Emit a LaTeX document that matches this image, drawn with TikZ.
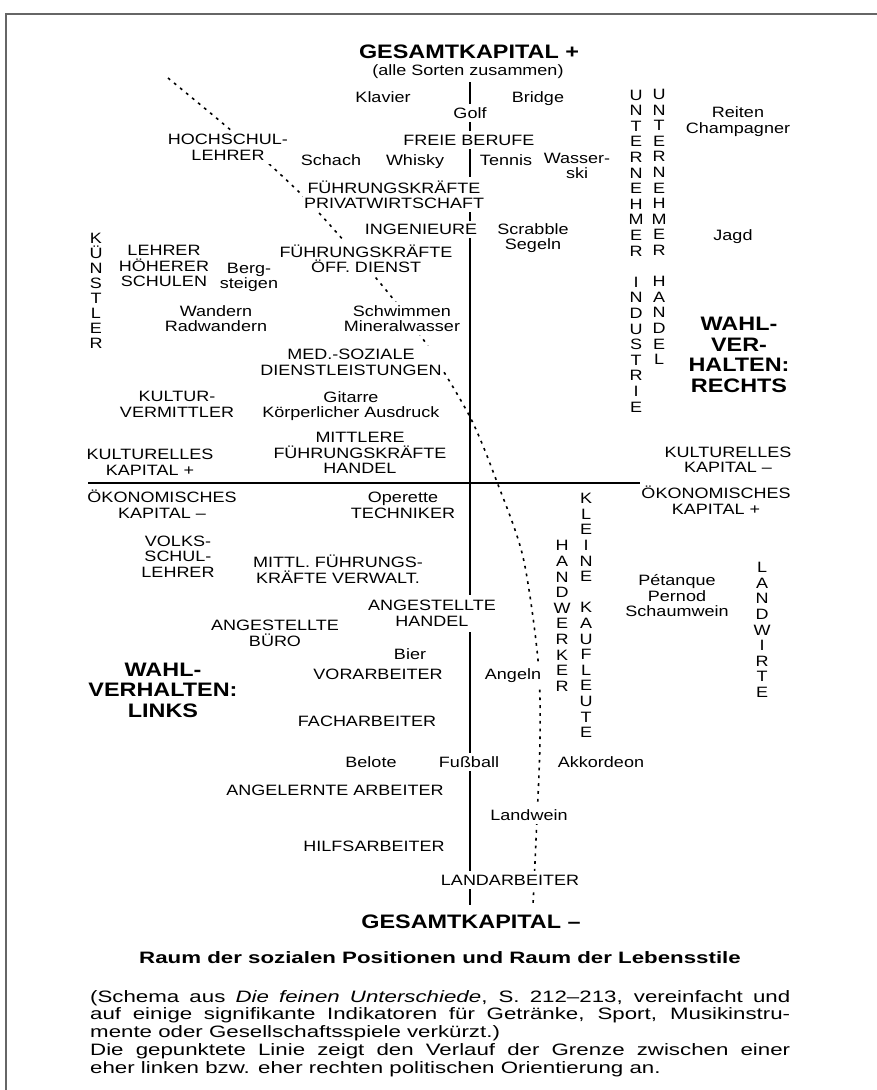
\documentclass[tikz,border=0pt]{standalone}
\usepackage{fontspec}
\setmainfont{Liberation Sans}[FakeStretch=1.2]
\newfontfamily\captfont{Liberation Sans}[FakeStretch=1.35]
\usetikzlibrary{backgrounds}
\begin{document}
\begin{tikzpicture}[x=1pt,y=-1pt,
  lab/.style={font=\fontsize{15}{15.5}\selectfont, align=center, fill=white, inner xsep=1.5pt, inner ysep=3.5pt},
  big/.style={font=\bfseries\fontsize{19.5}{20.5}\selectfont, align=center, fill=white, inner sep=1.5pt},
  col/.style={font=\fontsize{15}{15.6}\selectfont, align=center, inner sep=0pt},
  kcol/.style={font=\fontsize{15}{15}\selectfont, align=center, inner sep=0pt},
  axisline/.style={line width=1.5pt, black},
  grenze/.style={line width=1.6pt, dash pattern=on 2.8pt off 5pt, black},
  rahmen/.style={line width=1.5pt, black!60}]
\useasboundingbox (0,0) rectangle (877,1090);

% titles
\node[big, anchor=base] (gtop) at (469,58) {GESAMTKAPITAL +};
\node[lab, anchor=base, inner ysep=1.5pt] (alle) at (468,75) {(alle Sorten zusammen)};
\node[big, anchor=base] (gbot) at (471,928) {GESAMTKAPITAL –};

% upper half
\node[lab, anchor=base] (klavier) at (383,102.5) {Klavier};
\node[lab, anchor=base] (bridge) at (538,102) {Bridge};
\node[lab, anchor=base] (golf) at (470,118) {Golf};
\node[lab] (reiten) at (738,121.5) {Reiten\\Champagner};
\node[lab] (hochschul) at (228,147.5) {HOCHSCHUL-\\LEHRER};
\node[lab, anchor=base] (freie) at (469,145) {FREIE BERUFE};
\node[lab, anchor=base] (schach) at (331,165) {Schach};
\node[lab, anchor=base] (whisky) at (415,165) {Whisky};
\node[lab, anchor=base] (tennis) at (506,165) {Tennis};
\node[lab] (wasser) at (577,166) {Wasser-\\ski};
\node[lab] (fuehrpriv) at (394,194.7) {FÜHRUNGSKRÄFTE\\PRIVATWIRTSCHAFT};
\node[lab, anchor=base] (ingen) at (421,234.5) {INGENIEURE};
\node[lab] (scrabble) at (533,238) {Scrabble\\Segeln};
\node[lab, anchor=base] (jagd) at (733,240) {Jagd};
\node[lab] (lehrerhs) at (164,266) {LEHRER\\HÖHERER\\SCHULEN};
\node[lab] (berg) at (249,277.5) {Berg-\\steigen};
\node[lab] (fuehroeff) at (366,259) {FÜHRUNGSKRÄFTE\\ÖFF. DIENST};
\node[lab] (wandern) at (216,318.5) {Wandern\\Radwandern};
\node[lab] (schwimmen) at (402,318.5) {Schwimmen\\Mineralwasser};
\node[lab] (medsoz) at (351,362.5) {MED.-SOZIALE\\DIENSTLEISTUNGEN};
\node[lab] (kultverm) at (177,404.5) {KULTUR-\\VERMITTLER};
\node[lab] (gitarre) at (351,406) {Gitarre\\Körperlicher Ausdruck};
\node[lab] (mittlere) at (360,453) {MITTLERE\\FÜHRUNGSKRÄFTE\\HANDEL};
\node[lab] (kultplus) at (150,462.5) {KULTURELLES\\KAPITAL +};
\node[lab] (kultminus) at (728,460) {KULTURELLES\\KAPITAL –};
\node[big] (wahlrechts) at (739,355) {WAHL-\\VER-\\HALTEN:\\RECHTS};

% vertical letter columns
\node[kcol] (kuenstler) at (96,290.5) {K\\Ü\\N\\S\\T\\L\\E\\R};
\node[col] (untind) at (636,251) {U\\N\\T\\E\\R\\N\\E\\H\\M\\E\\R\\\mbox{}\\I\\N\\D\\U\\S\\T\\R\\I\\E};
\node[col] (unthand) at (659,227) {U\\N\\T\\E\\R\\N\\E\\H\\M\\E\\R\\\mbox{}\\H\\A\\N\\D\\E\\L};
\node[col] (kleine) at (586,615.5) {K\\L\\E\\I\\N\\E\\\mbox{}\\K\\A\\U\\F\\L\\E\\U\\T\\E};
\node[col] (handwerker) at (562,616) {H\\A\\N\\D\\W\\E\\R\\K\\E\\R};
\node[col] (landwirte) at (762,630) {L\\A\\N\\D\\W\\I\\R\\T\\E};

% lower half
\node[lab] (oekminus) at (162,504) {ÖKONOMISCHES\\KAPITAL –};
\node[lab] (oekplus) at (716,500) {ÖKONOMISCHES\\KAPITAL +};
\node[lab] (operette) at (403,505.5) {Operette\\TECHNIKER};
\node[lab] (volks) at (178,556.5) {VOLKS-\\SCHUL-\\LEHRER};
\node[lab] (mittl) at (338,569) {MITTL. FÜHRUNGS-\\KRÄFTE VERWALT.};
\node[lab, inner ysep=6pt] (angh) at (432,613.5) {ANGESTELLTE\\HANDEL};
\node[lab] (angb) at (275,633.5) {ANGESTELLTE\\BÜRO};
\node[lab] (petanque) at (677,596) {Pétanque\\Pernod\\Schaumwein};
\node[lab, anchor=base] (bier) at (410,659.5) {Bier};
\node[lab, anchor=base] (vorarb) at (378,679.5) {VORARBEITER};
\node[lab, anchor=base] (angeln) at (513,679) {Angeln};
\node[big] (wahllinks) at (163,690) {WAHL-\\VERHALTEN:\\LINKS};
\node[lab, anchor=base] (fach) at (367,726.5) {FACHARBEITER};
\node[lab, anchor=base] (belote) at (371,767.5) {Belote};
\node[lab, anchor=base] (fussball) at (469,767.5) {Fußball};
\node[lab, anchor=base] (akk) at (601,767) {Akkordeon};
\node[lab, anchor=base] (angelernt) at (335,795) {ANGELERNTE ARBEITER};
\node[lab, anchor=base] (landwein) at (529,820) {Landwein};
\node[lab, anchor=base] (hilfs) at (374,851) {HILFSARBEITER};
\node[lab, anchor=base] (landarb) at (510,885) {LANDARBEITER};

% caption
\node[anchor=base, inner sep=0pt, font=\captfont\bfseries\fontsize{16.5}{18}\selectfont] (capttitle) at (440,963) {Raum der sozialen Positionen und Raum der Lebensstile};
\node[anchor=base west, inner sep=0pt, text width=700pt, align=justify, font=\captfont\fontsize{16.5}{17.75}\selectfont] (capttext) at (90,1002)
{(Schema aus \textit{Die feinen Unterschiede}, S. 212–213, vereinfacht und\linebreak
auf einige signifikante Indikatoren für Getränke, Sport, Musikinstru-\linebreak
mente oder Gesellschaftsspiele verkürzt.)\par
Die gepunktete Linie zeigt den Verlauf der Grenze zwischen einer\linebreak
eher linken bzw. eher rechten politischen Orientierung an.};

% axes and border line on background
\coordinate (vtop) at (470,82);
\coordinate (vbot) at (470,905);
\coordinate (hl) at (88,483);
\coordinate (hr) at (790,483);
\coordinate (fr1) at (6,1090);
\coordinate (fr2) at (6,14);
\coordinate (fr3) at (877,14);
\begin{scope}[on background layer]
  \fill[white] (0,0) rectangle (877,1090);
  \draw[rahmen] (fr1) -- (fr2) -- (fr3);
  \draw[axisline] (vtop) -- (vbot);
  \draw[axisline] (hl) -- (hr);
  \draw[grenze] plot[smooth, tension=0.5] coordinates {(168,78) (240,138) (300,193) (345,242) (390,295) (425,342) (470,417) (497,482) (523,557) (538,660) (540,740) (536,840) (533,905)};
\end{scope}
\end{tikzpicture}
\end{document}
